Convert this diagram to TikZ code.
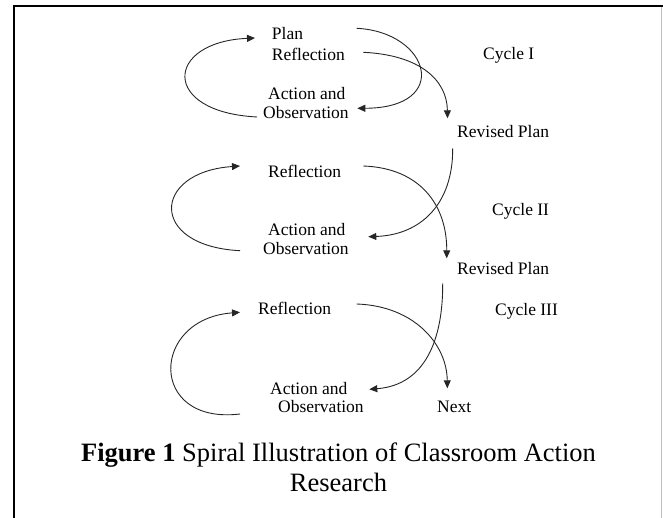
\documentclass[tikz,border=0pt]{standalone}
\usepackage{fontspec}
\setmainfont{Liberation Serif}
\usetikzlibrary{arrows.meta}
\begin{document}
\begin{tikzpicture}[x=1pt,y=-1pt,
  lbl/.style={anchor=base west,inner sep=0pt,font=\fontsize{17.5}{21}\selectfont},
  captxt/.style={anchor=base,inner sep=0pt,font=\fontsize{26.5}{30}\selectfont},
  conn/.style={line width=0.9pt,draw=black!85},
  arr/.style={conn,-{Triangle[length=8pt,width=7pt]}}]
\useasboundingbox (0,0) rectangle (663,518);
% frame
\draw[line width=2pt] (14,518) -- (14,6) -- (663,6);
\draw[line width=0.8pt,black!25] (661.7,7) -- (661.7,518);
% cycle I
\node[lbl] (plan1) at (271.7,40) {Plan};
\node[lbl] (refl1) at (271.7,60.5) {Reflection};
\node[lbl] (act1) at (268,99.3) {Action and};
\node[lbl] (obs1) at (263,118.3) {Observation};
\node[lbl] (cyc1) at (483,60) {Cycle I};
\node[lbl] (rev1) at (457,138) {Revised Plan};
% cycle II
\node[lbl] (refl2) at (268,177.5) {Reflection};
\node[lbl] (act2) at (268,236) {Action and};
\node[lbl] (obs2) at (263,255) {Observation};
\node[lbl] (cyc2) at (492,216) {Cycle II};
\node[lbl] (rev2) at (457,275) {Revised Plan};
% cycle III
\node[lbl] (refl3) at (258,314.3) {Reflection};
\node[lbl] (act3) at (270,394.3) {Action and};
\node[lbl] (obs3) at (278,412.7) {Observation};
\node[lbl] (cyc3) at (495,315) {Cycle III};
\node[lbl] (next) at (437,412.7) {Next};
% caption
\node[captxt] (cap1) at (338.5,461.7) {\textbf{Figure 1} Spiral Illustration of Classroom Action};
\node[captxt] (cap2) at (338.5,491.7) {Research};
% connector end points
\coordinate (l1s) at (257,117);   \coordinate (l1e) at (255,38);
\coordinate (a1s) at (356.7,28.3); \coordinate (a1e) at (357.3,108.3);
\coordinate (b1s) at (363.3,52.3); \coordinate (b1e) at (447.5,118.3);
\coordinate (c2s) at (452.7,148.3); \coordinate (c2e) at (368.3,236.7);
\coordinate (l2s) at (240,250.7); \coordinate (l2e) at (240,166);
\coordinate (b2s) at (363.3,166); \coordinate (b2e) at (446.7,258.3);
\coordinate (c3s) at (442.7,283.3); \coordinate (c3e) at (369.3,389.3);
\coordinate (l3s) at (240,414); \coordinate (l3e) at (240,312.3);
\coordinate (b3s) at (356.7,304); \coordinate (b3e) at (447.3,388.3);
% cycle I curves
\draw[arr] (l1s) .. controls (160,112) and (165,42) .. (l1e);
\draw[arr] (a1s) .. controls (430,32) and (452,108) .. (a1e);
\draw[arr] (b1s) .. controls (420,55) and (447,80) .. (b1e);
% cycle II curves
\draw[arr] (c2s) .. controls (453,205) and (420,235) .. (c2e);
\draw[arr] (l2s) .. controls (148,246) and (152,172) .. (l2e);
\draw[arr] (b2s) .. controls (420,168) and (447,205) .. (b2e);
% cycle III curves
\draw[arr] (c3s) .. controls (443,340) and (425,385) .. (c3e);
\draw[arr] (l3s) .. controls (148,425) and (150,319) .. (l3e);
\draw[arr] (b3s) .. controls (415,306) and (447,345) .. (b3e);
\end{tikzpicture}
\end{document}
